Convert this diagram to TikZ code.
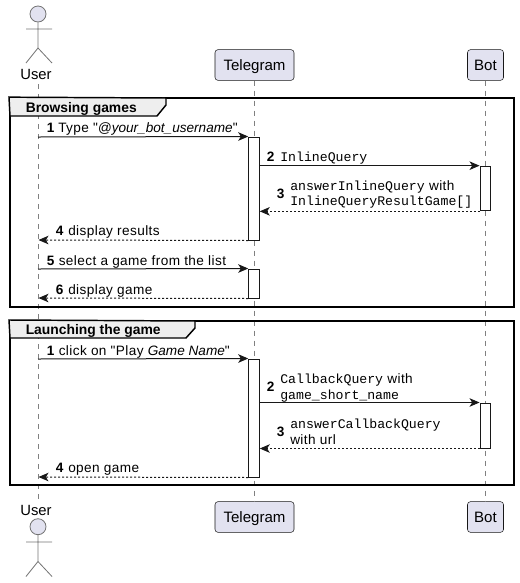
\documentclass[tikz,border=0pt]{standalone}
\usepackage{fontspec}
\setmainfont{Liberation Sans}
\setmonofont[Scale=0.97]{Liberation Mono}
\newfontfamily\plainsans{Liberation Sans}
\newfontfamily\labelsans[LetterSpace=3,ItalicFeatures={LetterSpace=0},BoldFeatures={LetterSpace=0}]{Liberation Sans}
\usetikzlibrary{arrows.meta}
\definecolor{ink}{HTML}{181818}
\definecolor{partfill}{HTML}{E2E2F0}
\definecolor{tabfill}{HTML}{EEEEEE}
\definecolor{lifegray}{HTML}{808080}
\newcommand{\num}[1]{\textbf{#1}}
\tikzset{
  x=0.75pt, y=-0.75pt,
  part/.style={draw=ink, line width=0.4pt, fill=partfill, rounded corners=2.2pt, inner sep=0pt,
    text height=8.6pt, text depth=0.8pt,
    font=\plainsans\fontsize{11.3}{13}\selectfont, text=black},
  lifeline/.style={draw=lifegray, line width=0.5pt, dash pattern=on 3.75pt off 3.75pt},
  act/.style={draw=ink, line width=0.75pt, fill=white, minimum width=7.9pt, inner sep=0pt},
  msg/.style={draw=ink, line width=0.75pt, -{Stealth[length=7.5pt,width=6.4pt,inset=2pt]}},
  ret/.style={msg, dash pattern=on 1.5pt off 1.5pt},
  frameline/.style={draw=black, line width=1.5pt},
  tab/.style={draw=black, line width=1.1pt, fill=tabfill},
  lbl/.style={anchor=base west, inner sep=0pt, font=\labelsans\fontsize{10.2}{11.25}\selectfont, text=black, align=left},
  ftitle/.style={anchor=base west, inner sep=0pt, font=\plainsans\fontsize{10.4}{11.25}\selectfont\bfseries, text=black},
  actorname/.style={inner sep=0pt, font=\plainsans\fontsize{11.1}{13}\selectfont, text=black},
  stick/.style={draw=lifegray!90!black, line width=0.6pt},
  head/.style={draw=lifegray!90!black, line width=0.6pt, fill=partfill, circle, minimum size=12pt, inner sep=0pt},
}
\begin{document}
\begin{tikzpicture}
\useasboundingbox (0,0) rectangle (519,583);
% participants
\node[part, minimum width=59.25pt, minimum height=23pt] (tgT) at (254.5,65) {Telegram};
\node[part, minimum width=27pt, minimum height=23pt] (botT) at (485.5,65) {Bot};
\node[part, minimum width=59.25pt, minimum height=23pt] (tgB) at (254.5,517) {Telegram};
\node[part, minimum width=27pt, minimum height=23pt] (botB) at (485.5,517) {Bot};
\node[actorname, anchor=base] (userT) at (36,79) {User};
\node[actorname, anchor=base] (userB) at (36,515) {User};
\coordinate (uTop) at (38,84);
\coordinate (uBot) at (38,502);
% lifelines
\draw[lifeline] (uTop) -- (uBot);
\draw[lifeline] (tgT) -- (tgB);
\draw[lifeline] (botT) -- (botB);
% activations
\node[act, minimum height=77.25pt] (a1) at (254,188.5) {};
\node[act, minimum height=33.5pt] (b1) at (485.3,188.5) {};
\node[act, minimum height=21.75pt] (a2) at (254,283.5) {};
\node[act, minimum height=88.5pt] (a3) at (254,418) {};
\node[act, minimum height=33.75pt] (b2) at (485.3,425.5) {};
% actors
\node[head] (h1) at (38,14) {};
\coordinate (p1) at (38,48);
\coordinate (al1) at (26,29);
\coordinate (ar1) at (52,29);
\coordinate (ll1) at (26,63);
\coordinate (lr1) at (52,63);
\draw[stick] (h1) -- (p1) (al1) -- (ar1) (ll1) -- (p1) -- (lr1);
\node[head] (h2) at (38,526.7) {};
\coordinate (p2) at (38,561.5);
\coordinate (al2) at (26,542);
\coordinate (ar2) at (52,542);
\coordinate (ll2) at (26,576.5);
\coordinate (lr2) at (52,576.5);
\draw[stick] (h2) -- (p2) (al2) -- (ar2) (ll2) -- (p2) -- (lr2);
% frames
\node[inner sep=0pt, minimum width=378pt, minimum height=156.5pt, frameline, draw] (f1) at (262,202.5) {};
\node[inner sep=0pt, minimum width=378pt, minimum height=123pt, frameline, draw] (f2) at (262,403) {};
\draw[tab] (f1.north west) -- (166,98) -- (166,105) -- (157,116) -- (10,116) -- cycle;
\draw[tab] (f2.north west) -- (195,321) -- (195,328) -- (186,338) -- (10,338) -- cycle;
\node[ftitle] (t1) at (25.5,112) {Browsing games};
\node[ftitle] (t2) at (25.5,334) {Launching the game};
% message anchors on the User lifeline
\coordinate (u1) at (38,137);
\coordinate (u4) at (38.5,240);
\coordinate (u5) at (38,269);
\coordinate (u6) at (38.5,298);
\coordinate (u7) at (38,359);
\coordinate (u8) at (38.5,477);
% messages
\draw[msg] (u1) -- (a1.north west);
\draw[msg] (a1.east |- b1.north) -- (b1.north west);
\draw[ret] (b1.south west) -- (a1.east |- b1.south);
\draw[ret] (a1.south west) -- (u4);
\draw[msg] (u5) -- (a2.north west);
\draw[ret] (a2.south west) -- (u6);
\draw[msg] (u7) -- (a3.north west);
\draw[msg] (a3.east |- b2.north) -- (b2.north west);
\draw[ret] (b2.south west) -- (a3.east |- b2.south);
\draw[ret] (a3.south west) -- (u8);
% labels
\node[lbl] (n11) at (46.5,132) {\num{1}};
\node[lbl] (m11) at (58,132) {Type "\textit{@your\_bot\_username}"};
\node[lbl] (n12) at (266.5,161.5) {\num{2}};
\node[lbl] (m12) at (280,161.5) {\texttt{InlineQuery}};
\node[lbl] (n13) at (276.5,198) {\num{3}};
\node[lbl] (m13a) at (290,190.5) {\texttt{answerInlineQuery} with};
\node[lbl] (m13b) at (290,205.5) {\texttt{InlineQueryResultGame[]}};
\node[lbl] (n14) at (55.5,235) {\num{4}};
\node[lbl] (m14) at (68,235) {display results};
\node[lbl] (n15) at (46.5,265) {\num{5}};
\node[lbl] (m15) at (58.5,265) {select a game from the list};
\node[lbl] (n16) at (55.5,294) {\num{6}};
\node[lbl] (m16) at (68,294) {display game};
\node[lbl] (n21) at (46.5,355) {\num{1}};
\node[lbl] (m21) at (58.5,355) {click on "Play \textit{Game Name}"};
\node[lbl] (n22) at (266.5,391.5) {\num{2}};
\node[lbl] (m22a) at (280,383) {\texttt{CallbackQuery} with};
\node[lbl] (m22b) at (280,399) {\texttt{game\_short\_name}};
\node[lbl] (n23) at (276.5,436) {\num{3}};
\node[lbl] (m23a) at (290,428) {\texttt{answerCallbackQuery}};
\node[lbl] (m23b) at (290,444) {with url};
\node[lbl] (n24) at (55.5,472.5) {\num{4}};
\node[lbl] (m24) at (68,472.5) {open game};
\end{tikzpicture}
\end{document}
